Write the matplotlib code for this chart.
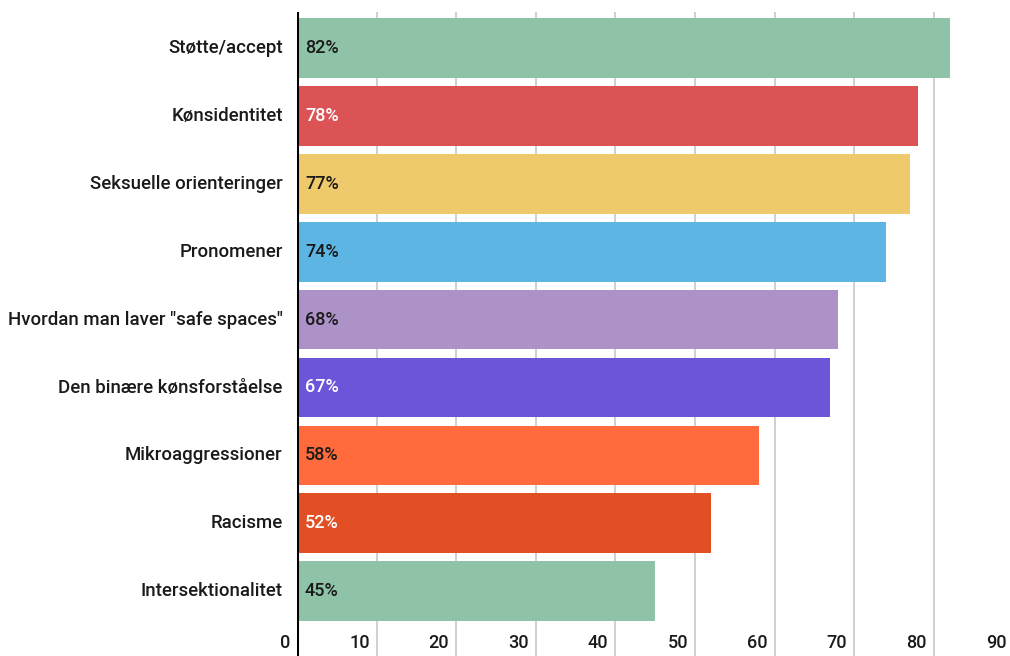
import matplotlib
matplotlib.use('Agg')
import matplotlib.pyplot as plt
from matplotlib.transforms import offset_copy

plt.rcParams['font.family'] = ['Roboto', 'DejaVu Sans']

categories = ['Støtte/accept', 'Kønsidentitet', 'Seksuelle orienteringer', 'Pronomener',
              'Hvordan man laver "safe spaces"', 'Den binære kønsforståelse',
              'Mikroaggressioner', 'Racisme', 'Intersektionalitet']
values = [82, 78, 77, 74, 68, 67, 58, 52, 45]
labels = ['82%', '78%', '77%', '74%', '68%', '67%', '58%', '52%', '45%']
colors = ['#8fc3a7', '#dc5356', '#eeca6c', '#5db5e3', '#ad92c8',
          '#6d55d9', '#ff6b3c', '#e34f25', '#8fc3a7']
label_colors = ['#1a1a1a', 'white', '#1a1a1a', '#1a1a1a', '#1a1a1a',
                'white', '#1a1a1a', 'white', '#1a1a1a']
xticks = [0, 10, 20, 30, 40, 50, 60, 70, 80, 90]

W, H = 1010, 656
fig = plt.figure(figsize=(W / 100, H / 100), dpi=100)
x0 = 297
px10 = 79.6
ax = fig.add_axes([x0 / W, 0, 9 * px10 / W, (H - 12) / H])
ax.set_xlim(0, 90)
step = 67.9
ax.set_ylim((H - 48) / step, (12 - 48) / step)

for x in xticks[1:]:
    ax.axvline(x, color='#cccccc', lw=1.3, zorder=0)

ys = range(len(categories))
ax.barh(ys, values, height=0.88, color=colors, zorder=2)
ax.axvline(0, color='black', lw=2.2, zorder=3)

for i, (lab, c) in enumerate(zip(labels, label_colors)):
    ax.text(1.0, i, lab, color=c, fontsize=13, fontweight='medium',
            va='center', ha='left', zorder=4)

for i, cat in enumerate(categories):
    ax.text(-1.8, i, cat, color='#1a1a1a', fontsize=13.4, fontweight='medium',
            va='center', ha='right')

tr = offset_copy(ax.transData, fig=fig, x=-7, y=0, units='dots')
ty = (643 - 48) / step
for x in xticks:
    ax.text(x, ty, str(x), transform=tr, ha='right', va='center',
            fontsize=13, fontweight='medium', color='#1a1a1a')

for s in ax.spines.values():
    s.set_visible(False)
ax.set_xticks([])
ax.set_yticks([])

fig.savefig('out.png', dpi=100)
